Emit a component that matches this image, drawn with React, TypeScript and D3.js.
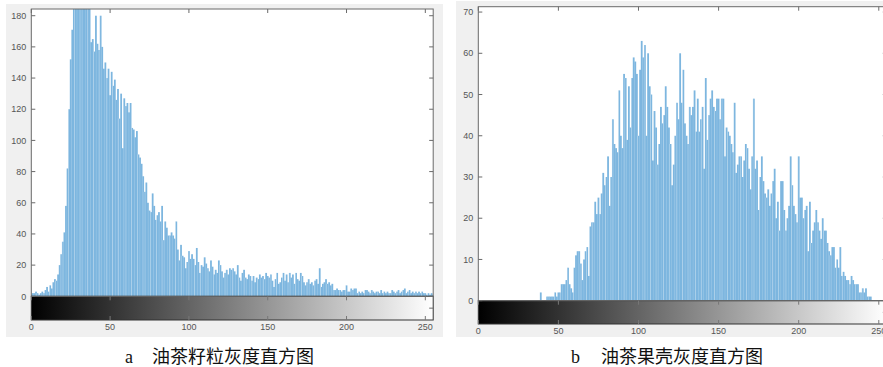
import React from "react";
import * as d3 from "d3";

// ---------- data ----------
const grainCounts: number[] = [
  1, 2, 2, 3, 2, 1, 2, 3, 2, 4,
  6, 3, 7, 5, 9, 11, 10, 14, 20, 27,
  35, 41, 58, 82, 120, 152, 171, 200, 215, 230,
  205, 240, 220, 250, 210, 235, 200, 190, 163, 165,
  157, 180, 162, 158, 180, 160, 146, 150, 140, 146,
  129, 144, 135, 139, 126, 133, 114, 130, 95, 127,
  122, 124, 118, 124, 108, 107, 102, 106, 91, 89,
  85, 77, 67, 73, 60, 55, 54, 66, 58, 49,
  52, 54, 48, 58, 36, 48, 44, 39, 39, 41,
  39, 37, 48, 30, 23, 33, 26, 25, 18, 22,
  29, 24, 27, 24, 20, 31, 22, 15, 20, 19,
  25, 21, 18, 16, 23, 19, 14, 17, 15, 23,
  20, 16, 12, 15, 17, 14, 18, 17, 18, 16,
  14, 20, 12, 10, 15, 17, 12, 11, 14, 13,
  10, 13, 9, 12, 11, 14, 12, 13, 11, 15,
  13, 12, 14, 10, 6, 11, 15, 8, 9, 12,
  15, 10, 14, 9, 15, 12, 14, 8, 15, 11,
  10, 15, 13, 9, 7, 9, 11, 8, 9, 7,
  10, 11, 8, 18, 6, 8, 9, 11, 8, 9,
  7, 8, 4, 4, 5, 4, 4, 3, 4, 4,
  7, 3, 3, 5, 4, 5, 5, 2, 3, 2,
  3, 2, 4, 4, 3, 2, 4, 3, 2, 3,
  3, 2, 4, 2, 3, 2, 3, 2, 2, 4,
  3, 2, 3, 4, 2, 3, 4, 5, 2, 3,
  4, 2, 3, 2, 3, 2, 3, 2, 3, 2,
  2, 1, 2, 1, 2, 1,
];

const shellCounts: number[] = [
  0, 0, 0, 0, 0, 0, 0, 0, 0, 0,
  0, 0, 0, 0, 0, 0, 0, 0, 0, 0,
  0, 0, 0, 0, 0, 0, 0, 0, 0, 0,
  0, 0, 0, 0, 0, 0, 0, 0, 0, 2,
  0, 0, 0, 1, 1, 1, 1, 1, 2, 1,
  2, 2, 4, 4, 4, 5, 8, 4, 3, 2,
  8, 11, 12, 12, 9, 5, 10, 12, 13, 6,
  18, 19, 19, 24, 21, 25, 21, 26, 31, 28,
  30, 35, 23, 30, 44, 38, 37, 36, 51, 40,
  37, 55, 54, 39, 52, 42, 54, 59, 58, 55,
  40, 56, 63, 59, 62, 40, 60, 52, 50, 34,
  46, 42, 33, 38, 47, 43, 45, 52, 47, 42,
  38, 28, 33, 40, 48, 44, 60, 48, 56, 43,
  40, 38, 47, 45, 47, 51, 41, 49, 41, 44,
  47, 32, 54, 39, 45, 49, 51, 47, 46, 49,
  49, 44, 49, 49, 35, 42, 41, 40, 38, 36,
  48, 31, 33, 35, 35, 30, 34, 38, 37, 32,
  27, 35, 49, 32, 34, 22, 30, 35, 29, 26,
  25, 27, 23, 26, 29, 32, 20, 24, 17, 29,
  29, 22, 17, 20, 23, 35, 28, 23, 21, 19,
  35, 25, 25, 20, 22, 23, 12, 24, 14, 17,
  19, 22, 19, 17, 15, 20, 17, 17, 14, 12,
  11, 13, 13, 8, 10, 8, 13, 6, 7, 6,
  5, 5, 4, 6, 5, 4, 4, 4, 2, 2,
  3, 2, 3, 1, 1, 1, 0, 0, 0, 0,
  0, 0, 0, 0, 0, 0,
];

const xTicks: number[] = [0, 50, 100, 150, 200, 250];
const grainYTicks: number[] = [0, 20, 40, 60, 80, 100, 120, 140, 160, 180];
const shellYTicks: number[] = [0, 10, 20, 30, 40, 50, 60, 70];
const captionLetters: string[] = ["a", "b"];
const captionTitles: string[] = ["油茶籽粒灰度直方图", "油茶果壳灰度直方图"];

// ---------- component ----------
const W = 883;
const H = 367;
const BAR = "#7db6df";
const AXIS = "#6a6a6a";
const LABEL = "#555";
const SANS = "'Liberation Sans', Arial, sans-serif";

interface PanelProps {
  id: string;
  counts: number[];
  yTicks: number[];
  yMax: number;
  bg: [number, number, number, number];
  x0: number;
  x1: number;
  top: number;
  zero: number;
  cbBottom: number;
  letter: string;
  title: string;
  letterX: number;
  titleX: number;
}

function Panel(p: PanelProps) {
  const x = d3.scaleLinear().domain([0, 255]).range([p.x0, p.x1]);
  const y = d3.scaleLinear().domain([0, p.yMax]).range([p.zero, p.top]);
  const bw = x(1) - x(0);
  const tick = 4;
  const gradId = `grad-${p.id}`;
  const clipId = `clip-${p.id}`;
  return (
    <g>
      <rect x={p.bg[0]} y={p.bg[1]} width={p.bg[2]} height={p.bg[3]} fill="#f0f0f0" />
      <defs>
        <linearGradient id={gradId} x1={x(0)} x2={x(255)} y1={0} y2={0} gradientUnits="userSpaceOnUse">
          <stop offset="0" stopColor="#000" />
          <stop offset="1" stopColor="#fff" />
        </linearGradient>
        <clipPath id={clipId}>
          <rect x={p.x0} y={p.top} width={p.x1 - p.x0} height={p.zero - p.top} />
        </clipPath>
      </defs>
      <rect x={p.x0} y={p.top} width={p.x1 - p.x0} height={p.zero - p.top} fill="#fff" />
      <g clipPath={`url(#${clipId})`}>
        {p.counts.map((c, i) =>
          c > 0 ? (
            <rect
              key={i}
              x={x(i - 0.5) - 0.1}
              y={y(c)}
              width={bw + 0.2}
              height={p.zero - y(c)}
              fill={BAR}
            />
          ) : null
        )}
        {/* faint separators like the rendering artefacts of the original */}
        {p.counts.map((c, i) =>
          c > 0 && i % 4 === 0 ? (
            <rect
              key={`s${i}`}
              x={x(i - 0.5) - 0.2}
              y={y(c)}
              width={0.4}
              height={p.zero - y(c)}
              fill="#ffffff"
              opacity={0.6}
            />
          ) : null
        )}
      </g>
      {/* colorbar */}
      <rect x={x(0)} y={p.zero} width={x(255) - x(0)} height={p.cbBottom - p.zero} fill={`url(#${gradId})`} />
      <rect x={p.x0} y={p.zero} width={p.x1 - p.x0} height={p.cbBottom - p.zero} fill="none" stroke="#333" strokeWidth={1} />
      {/* axes box */}
      <rect x={p.x0} y={p.top} width={p.x1 - p.x0} height={p.zero - p.top} fill="none" stroke={AXIS} strokeWidth={1} />
      {/* x ticks */}
      {xTicks.map((t) => (
        <g key={`xt${t}`}>
          <line x1={x(t)} x2={x(t)} y1={p.top} y2={p.top + tick} stroke={AXIS} />
          <line x1={x(t)} x2={x(t)} y1={p.zero} y2={p.zero + tick} stroke="#777" />
          <line x1={x(t)} x2={x(t)} y1={p.cbBottom} y2={p.cbBottom - tick} stroke="#777" />
          <text x={x(t)} y={p.cbBottom + 10} fontSize={9} fontFamily={SANS} fill={LABEL} textAnchor="middle">
            {t}
          </text>
        </g>
      ))}
      {/* y ticks */}
      {p.yTicks.map((t) => (
        <g key={`yt${t}`}>
          <line x1={p.x0} x2={p.x0 + tick} y1={y(t)} y2={y(t)} stroke={AXIS} />
          <line x1={p.x1} x2={p.x1 - tick} y1={y(t)} y2={y(t)} stroke={AXIS} />
          <text x={p.x0 - 5} y={y(t) + 3.2} fontSize={9} fontFamily={SANS} fill={LABEL} textAnchor="end">
            {t}
          </text>
        </g>
      ))}
      <line x1={p.x1} x2={p.x1 - tick} y1={(p.zero + p.cbBottom) / 2} y2={(p.zero + p.cbBottom) / 2} stroke={AXIS} />
      {/* caption */}
      <text x={p.letterX} y={363} fontSize={18} fontFamily="'Liberation Serif', 'Times New Roman', serif" fill="#111">
        {p.letter}
      </text>
      <text x={p.titleX} y={363} fontSize={18} fontFamily="'Noto Sans CJK SC', sans-serif" fill="#111">
        {p.title}
      </text>
    </g>
  );
}

export default function App() {
  return (
    <svg
      width={W}
      height={H}
      viewBox={`0 0 ${W} ${H}`}
      style={{ position: "absolute", left: 0, top: 0, background: "#fff" }}
    >
      <Panel
        id="a"
        counts={grainCounts}
        yTicks={grainYTicks}
        yMax={184.3}
        bg={[6, 4, 437, 333]}
        x0={31.3}
        x1={433.2}
        top={9}
        zero={296.3}
        cbBottom={320}
        letter={captionLetters[0]}
        title={captionTitles[0]}
        letterX={125}
        titleX={152}
      />
      <Panel
        id="b"
        counts={shellCounts}
        yTicks={shellYTicks}
        yMax={71.3}
        bg={[456, 1, 430, 336]}
        x0={478.3}
        x1={886.8}
        top={6.7}
        zero={300.7}
        cbBottom={324}
        letter={captionLetters[1]}
        title={captionTitles[1]}
        letterX={571}
        titleX={601}
      />
    </svg>
  );
}
